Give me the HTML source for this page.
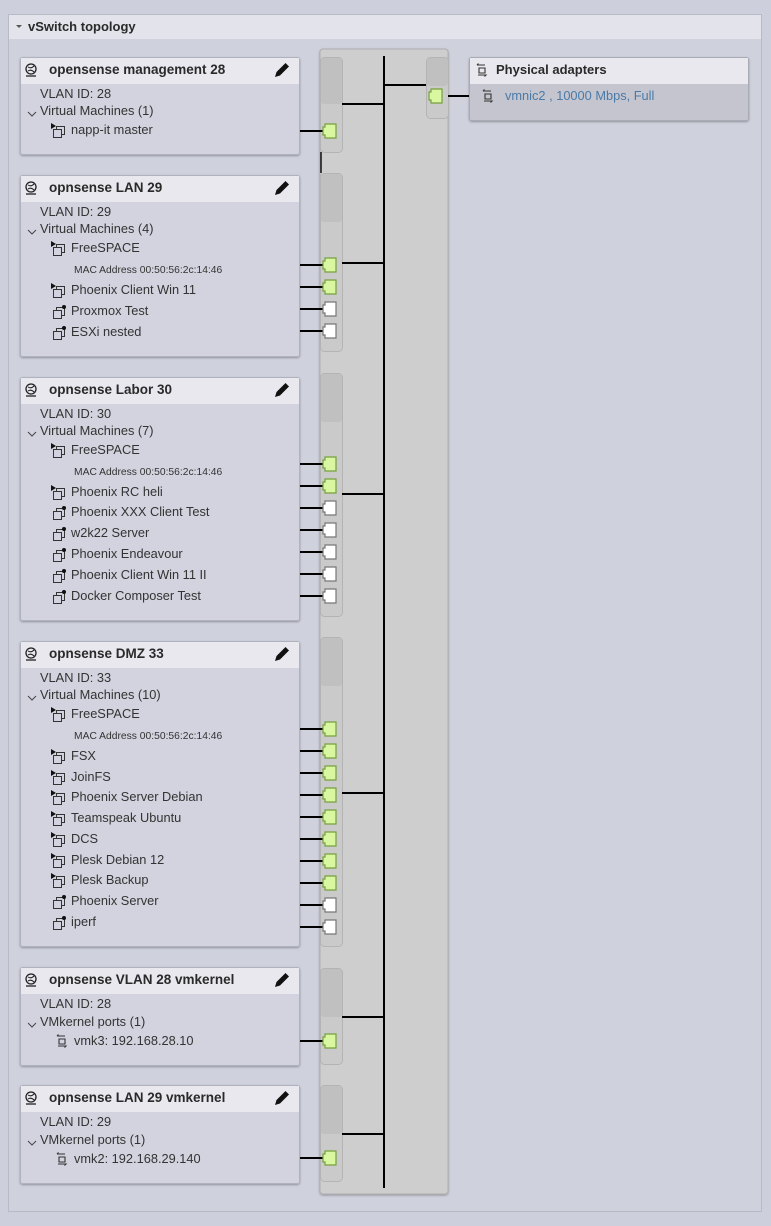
<!DOCTYPE html>
<html><head><meta charset="utf-8"><style>
html,body{margin:0;padding:0;background:#cdd0dc;}
svg{display:block;font-family:"Liberation Sans","DejaVu Sans",sans-serif;}
.t{font-size:13.5px;font-weight:bold;fill:#2a2a2a}
.b{font-size:12.8px;fill:#333}
.m{font-size:10.3px;fill:#333}
.l{font-size:12.8px;fill:#4a7aa8}
</style></head><body>
<svg width="771" height="1226" viewBox="0 0 771 1226" xmlns="http://www.w3.org/2000/svg">
<defs>
<filter id="sh" x="-5%" y="-5%" width="110%" height="115%"><feDropShadow dx="0" dy="1" stdDeviation="1" flood-color="#000" flood-opacity="0.3"/></filter>
<path id="pg" d="M3,-7 h11 v14 h-11 v-3 h-2 v-8 h2 z" fill="#d8f7a0" stroke="#76a03c" stroke-width="1.2"/>
<path id="pw" d="M3,-7 h11 v14 h-11 v-3 h-2 v-8 h2 z" fill="#ffffff" stroke="#777" stroke-width="1.2"/>
<g id="von"><path d="M-3,-8 l5,3 l-5,3 z" fill="#111"/><rect x="2.5" y="-4.5" width="8" height="8" fill="none" stroke="#333"/><rect x="-0.5" y="-1.5" width="8" height="8" fill="#d2d3de" stroke="#333"/></g>
<g id="voff"><rect x="2.5" y="-4.5" width="8" height="8" fill="none" stroke="#333"/><rect x="-0.5" y="-1.5" width="8" height="8" fill="#d2d3de" stroke="#333"/><circle cx="10" cy="-5" r="2" fill="#111"/></g>
<g id="glb"><circle cx="0" cy="0" r="5" fill="none" stroke="#222" stroke-width="1.3"/><path d="M-3,-2 q3,2 6,-1 M-3,2 q3,-2 6,1" fill="none" stroke="#222"/><path d="M-5,7 h10" stroke="#222" stroke-width="1.3"/></g>
<g id="pen"><path d="M-7,7 l1.5,-5 l9,-9 l3.5,3.5 l-9,9 z" fill="#111"/></g>
<g id="nic"><path d="M-4,-5 h8 M-4,-5 l1.5,-1.5 M-2,-2 h6 v5 h-6 z M-3,5 h8 l-1.5,1.5" fill="none" stroke="#333" stroke-width="1.1"/></g>
<path id="chv" d="M-4,-2 l4,4 l4,-4" fill="none" stroke="#444" stroke-width="1"/>
</defs>

<rect x="8.5" y="14.5" width="753" height="1197" fill="#cfd1dd" stroke="#b8bac6"/>
<rect x="9" y="15" width="752" height="24" fill="#e3e4eb"/>
<path d="M16,25 l3,3 l3,-3 z" fill="#555"/>
<text x="28" y="31" class="t" style="font-size:13px">vSwitch topology</text>

<rect x="320" y="49" width="128" height="1145" rx="3" fill="#cecece" stroke="#b0b0b0" filter="url(#sh)"/>

<g fill="#cacaca" stroke="#b4b4b4">
<rect x="320.5" y="57.5" width="22" height="95" rx="4"/>
<rect x="320.5" y="173.5" width="22" height="178" rx="4"/>
<rect x="320.5" y="373.5" width="22" height="243" rx="4"/>
<rect x="320.5" y="637.5" width="22" height="309" rx="4"/>
<rect x="320.5" y="968.5" width="22" height="96" rx="4"/>
<rect x="320.5" y="1085.5" width="22" height="96" rx="4"/>
<rect x="426.5" y="57.5" width="22" height="61" rx="4"/>
</g>
<g fill="#c0c0c0">
<rect x="321" y="58" width="21" height="46" rx="3"/>
<rect x="321" y="174" width="21" height="48" rx="3"/>
<rect x="321" y="374" width="21" height="48" rx="3"/>
<rect x="321" y="638" width="21" height="48" rx="3"/>
<rect x="321" y="969" width="21" height="48" rx="3"/>
<rect x="321" y="1086" width="21" height="48" rx="3"/>
<rect x="427" y="58" width="21" height="28" rx="3"/>
</g>
<path d="M321,152 v21" stroke="#111" stroke-width="1.5"/>

<g stroke="#000" stroke-width="2">
<path d="M384,56 V1188"/>
<path d="M384,85 H426"/>
<path d="M448,96 H469"/>
<path d="M342,104 H384"/>
<path d="M342,263 H384"/>
<path d="M342,494 H384"/>
<path d="M342,793 H384"/>
<path d="M342,1017 H384"/>
<path d="M342,1134 H384"/>
</g>
<use href="#pg" x="428" y="96"/>

<g stroke="#000" stroke-width="2">
<path d="M300,131H323M300,265H323M300,287H323M300,309H323M300,331H323M300,464H323M300,486H323M300,508H323M300,530H323M300,552H323M300,574H323M300,596H323M300,729H323M300,751H323M300,773H323M300,795H323M300,817H323M300,839H323M300,861H323M300,883H323M300,905H323M300,927H323M300,1041H323M300,1158H323"/>
</g>
<use href="#pg" x="322" y="131"/>
<use href="#pg" x="322" y="265"/><use href="#pg" x="322" y="287"/><use href="#pw" x="322" y="309"/><use href="#pw" x="322" y="331"/>
<use href="#pg" x="322" y="464"/><use href="#pg" x="322" y="486"/><use href="#pw" x="322" y="508"/><use href="#pw" x="322" y="530"/><use href="#pw" x="322" y="552"/><use href="#pw" x="322" y="574"/><use href="#pw" x="322" y="596"/>
<use href="#pg" x="322" y="729"/><use href="#pg" x="322" y="751"/><use href="#pg" x="322" y="773"/><use href="#pg" x="322" y="795"/><use href="#pg" x="322" y="817"/><use href="#pg" x="322" y="839"/><use href="#pg" x="322" y="861"/><use href="#pg" x="322" y="883"/><use href="#pw" x="322" y="905"/><use href="#pw" x="322" y="927"/>
<use href="#pg" x="322" y="1041"/>
<use href="#pg" x="322" y="1158"/>

<rect x="469.5" y="57.5" width="279" height="63" rx="2" fill="#c4c5cf" stroke="#a8aab4" filter="url(#sh)"/>
<rect x="470" y="58" width="278" height="26" fill="#e8e8ee"/>
<use href="#nic" x="481" y="70"/>
<text x="496" y="74" class="t" style="font-size:13px">Physical adapters</text>
<use href="#nic" x="487" y="96"/>
<text x="505" y="100" class="l">vmnic2 , 10000 Mbps, Full</text>

<g>
<rect x="20.5" y="57.5" width="279" height="97" rx="2" fill="#d2d3de" stroke="#b0b2bd" filter="url(#sh)"/>
<rect x="21" y="58" width="278" height="26" fill="#e8e8ee"/>
<use href="#glb" x="31" y="69"/><text x="49" y="74" class="t">opensense management 28</text><use href="#pen" x="282" y="70"/>
<text x="40" y="98" class="b">VLAN ID: 28</text>
<use href="#chv" x="32" y="114"/><text x="40" y="115" class="b">Virtual Machines (1)</text>
<use href="#von" x="54" y="131"/><text x="71" y="134" class="b">napp-it master</text>
</g>

<g>
<rect x="20.5" y="175.5" width="279" height="181" rx="2" fill="#d2d3de" stroke="#b0b2bd" filter="url(#sh)"/>
<rect x="21" y="176" width="278" height="26" fill="#e8e8ee"/>
<use href="#glb" x="31" y="187"/><text x="49" y="192" class="t">opnsense LAN 29</text><use href="#pen" x="282" y="188"/>
<text x="40" y="216" class="b">VLAN ID: 29</text>
<use href="#chv" x="32" y="232"/><text x="40" y="233" class="b">Virtual Machines (4)</text>
<use href="#von" x="54" y="249"/><text x="71" y="252" class="b">FreeSPACE</text>
<text x="74" y="273" class="m">MAC Address 00:50:56:2c:14:46</text>
<use href="#von" x="54" y="291"/><text x="71" y="294" class="b">Phoenix Client Win 11</text>
<use href="#voff" x="54" y="312"/><text x="71" y="315" class="b">Proxmox Test</text>
<use href="#voff" x="54" y="333"/><text x="71" y="336" class="b">ESXi nested</text>
</g>

<g>
<rect x="20.5" y="377.5" width="279" height="243" rx="2" fill="#d2d3de" stroke="#b0b2bd" filter="url(#sh)"/>
<rect x="21" y="378" width="278" height="26" fill="#e8e8ee"/>
<use href="#glb" x="31" y="389"/><text x="49" y="394" class="t">opnsense Labor 30</text><use href="#pen" x="282" y="390"/>
<text x="40" y="418" class="b">VLAN ID: 30</text>
<use href="#chv" x="32" y="434"/><text x="40" y="435" class="b">Virtual Machines (7)</text>
<use href="#von" x="54" y="451"/><text x="71" y="454" class="b">FreeSPACE</text>
<text x="74" y="475" class="m">MAC Address 00:50:56:2c:14:46</text>
<use href="#von" x="54" y="493"/><text x="71" y="496" class="b">Phoenix RC heli</text>
<use href="#voff" x="54" y="513"/><text x="71" y="516" class="b">Phoenix XXX Client Test</text>
<use href="#voff" x="54" y="534"/><text x="71" y="537" class="b">w2k22 Server</text>
<use href="#voff" x="54" y="555"/><text x="71" y="558" class="b">Phoenix Endeavour</text>
<use href="#voff" x="54" y="576"/><text x="71" y="579" class="b">Phoenix Client Win 11 II</text>
<use href="#voff" x="54" y="597"/><text x="71" y="600" class="b">Docker Composer Test</text>
</g>

<g>
<rect x="20.5" y="641.5" width="279" height="305" rx="2" fill="#d2d3de" stroke="#b0b2bd" filter="url(#sh)"/>
<rect x="21" y="642" width="278" height="26" fill="#e8e8ee"/>
<use href="#glb" x="31" y="653"/><text x="49" y="658" class="t">opnsense DMZ 33</text><use href="#pen" x="282" y="654"/>
<text x="40" y="682" class="b">VLAN ID: 33</text>
<use href="#chv" x="32" y="698"/><text x="40" y="699" class="b">Virtual Machines (10)</text>
<use href="#von" x="54" y="715"/><text x="71" y="718" class="b">FreeSPACE</text>
<text x="74" y="739" class="m">MAC Address 00:50:56:2c:14:46</text>
<use href="#von" x="54" y="757"/><text x="71" y="760" class="b">FSX</text>
<use href="#von" x="54" y="778"/><text x="71" y="781" class="b">JoinFS</text>
<use href="#von" x="54" y="798"/><text x="71" y="801" class="b">Phoenix Server Debian</text>
<use href="#von" x="54" y="819"/><text x="71" y="822" class="b">Teamspeak Ubuntu</text>
<use href="#von" x="54" y="840"/><text x="71" y="843" class="b">DCS</text>
<use href="#von" x="54" y="861"/><text x="71" y="864" class="b">Plesk Debian 12</text>
<use href="#von" x="54" y="881"/><text x="71" y="884" class="b">Plesk Backup</text>
<use href="#voff" x="54" y="902"/><text x="71" y="905" class="b">Phoenix Server</text>
<use href="#voff" x="54" y="923"/><text x="71" y="926" class="b">iperf</text>
</g>

<g>
<rect x="20.5" y="967.5" width="279" height="98" rx="2" fill="#d2d3de" stroke="#b0b2bd" filter="url(#sh)"/>
<rect x="21" y="968" width="278" height="26" fill="#e8e8ee"/>
<use href="#glb" x="31" y="979"/><text x="49" y="984" class="t">opnsense VLAN 28 vmkernel</text><use href="#pen" x="282" y="980"/>
<text x="40" y="1008" class="b">VLAN ID: 28</text>
<use href="#chv" x="32" y="1025"/><text x="40" y="1026" class="b">VMkernel ports (1)</text>
<use href="#nic" x="61" y="1041"/><text x="74" y="1045" class="b">vmk3: 192.168.28.10</text>
</g>

<g>
<rect x="20.5" y="1085.5" width="279" height="98" rx="2" fill="#d2d3de" stroke="#b0b2bd" filter="url(#sh)"/>
<rect x="21" y="1086" width="278" height="26" fill="#e8e8ee"/>
<use href="#glb" x="31" y="1097"/><text x="49" y="1102" class="t">opnsense LAN 29 vmkernel</text><use href="#pen" x="282" y="1098"/>
<text x="40" y="1126" class="b">VLAN ID: 29</text>
<use href="#chv" x="32" y="1143"/><text x="40" y="1144" class="b">VMkernel ports (1)</text>
<use href="#nic" x="61" y="1159"/><text x="74" y="1163" class="b">vmk2: 192.168.29.140</text>
</g>
</svg>
</body></html>
